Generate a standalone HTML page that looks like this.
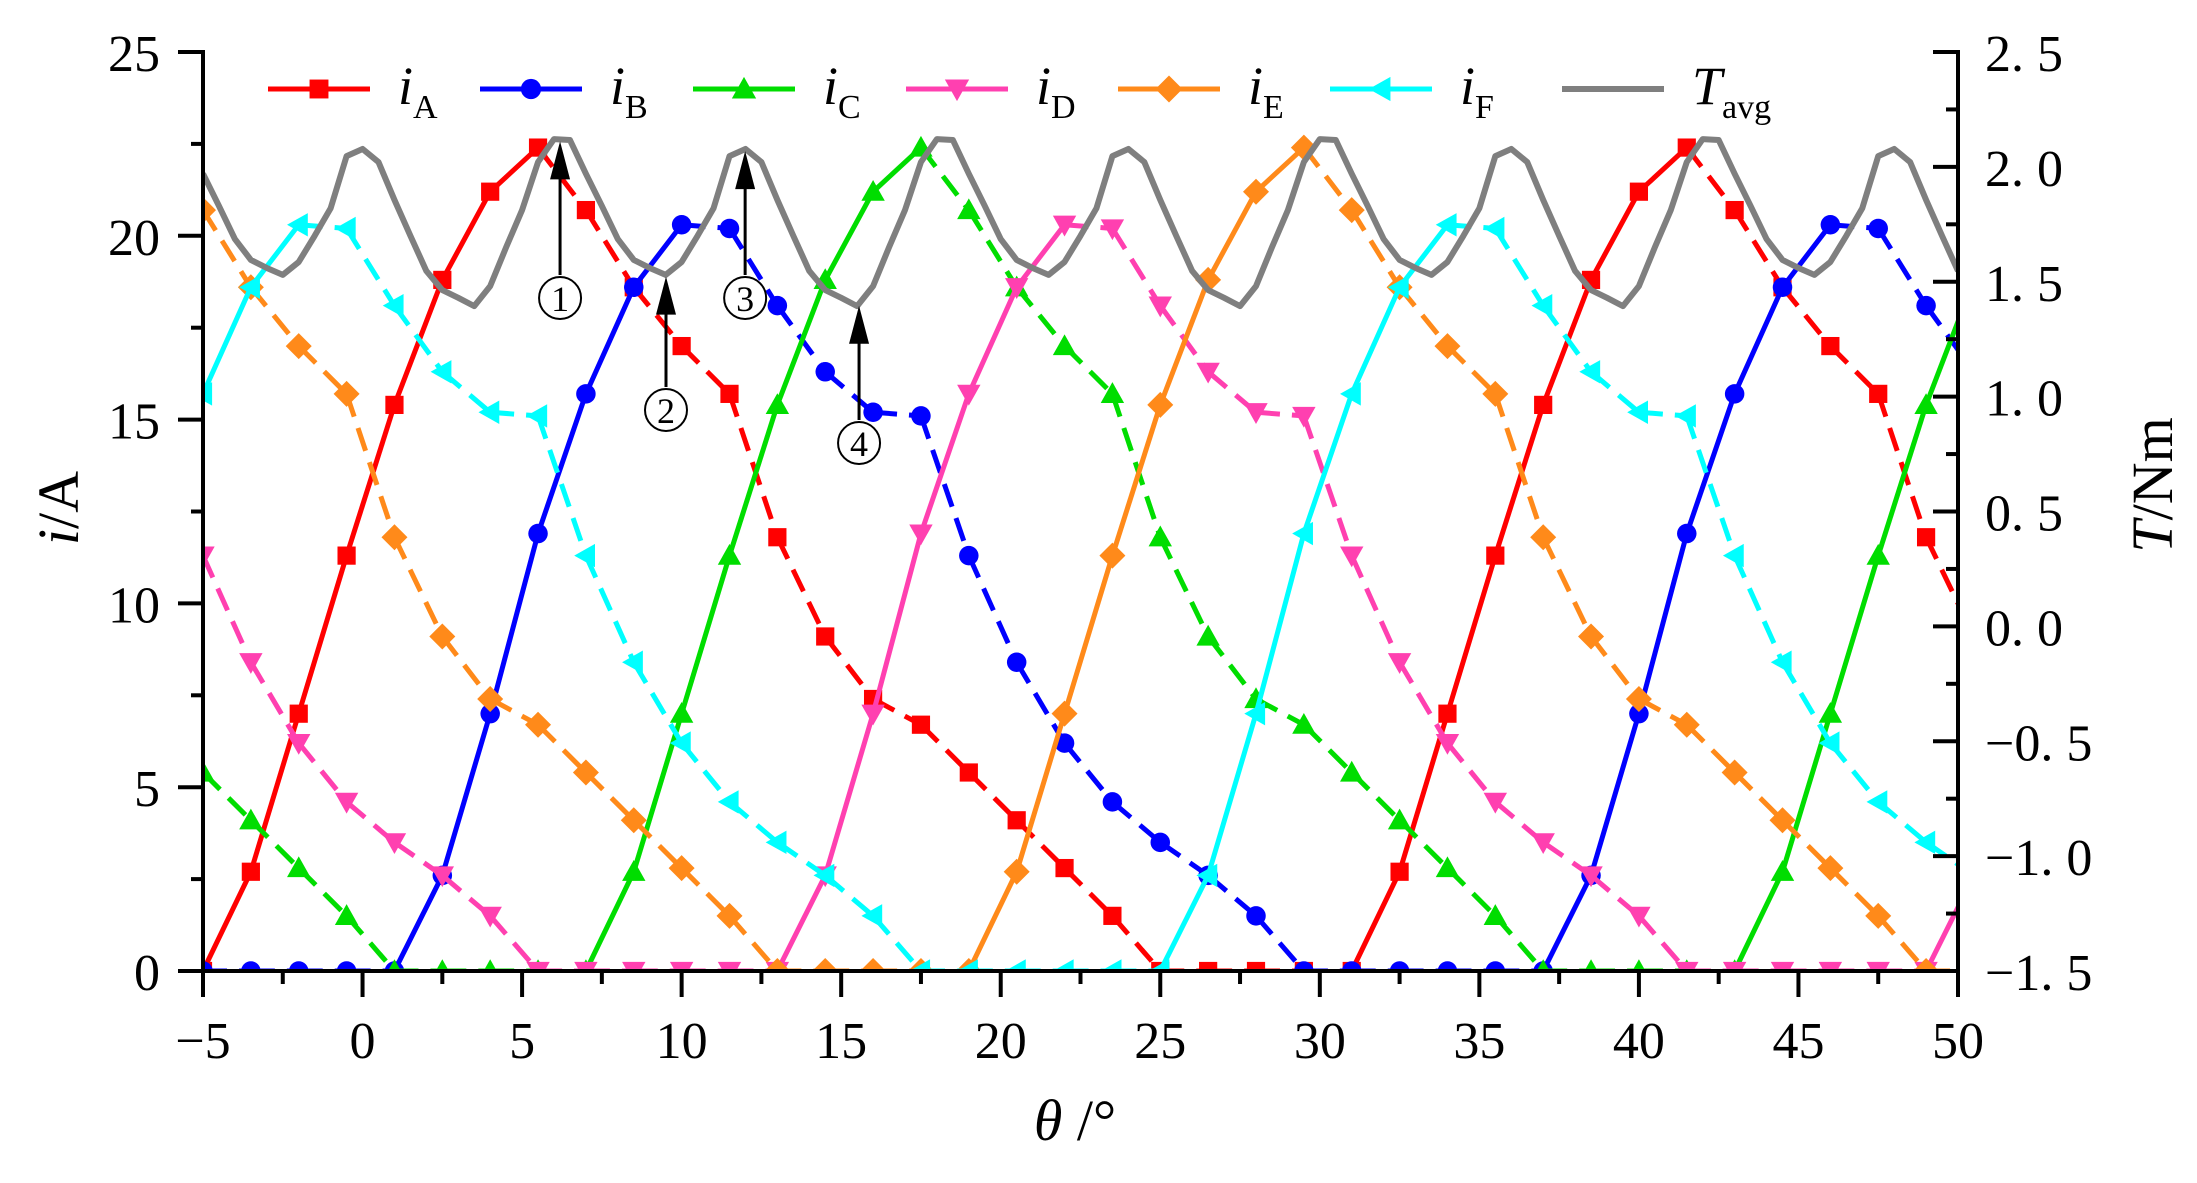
<!DOCTYPE html>
<html><head><meta charset="utf-8"><style>
html,body{margin:0;padding:0;background:#fff;}
svg{display:block;font-family:"Liberation Serif",serif;}
</style></head><body>
<svg id="chart" width="2197" height="1183" viewBox="0 0 2197 1183" xmlns="http://www.w3.org/2000/svg">
<defs><clipPath id="plotclip"><rect x="203" y="40" width="1755" height="933"/></clipPath></defs>
<g id="series" clip-path="url(#plotclip)"></g>
<g id="axes"></g>
<g id="annot"></g>
<g id="legend"></g>
<text transform="translate(78,508) rotate(-90)" text-anchor="middle" font-size="58"><tspan font-style="italic">i</tspan>/A</text>
<text transform="translate(2172,485) rotate(-90)" text-anchor="middle" font-size="58"><tspan font-style="italic">T</tspan>/Nm</text>
<text x="1075" y="1140" text-anchor="middle" font-size="58"><tspan font-style="italic">θ</tspan> /°</text>
</svg>
<script>
const theta = [-5,-3.5,-2,-0.5,1,2.5,4,5.5,7,8.5,10,11.5,13,14.5,16,17.5,19,20.5,22,23.5,25,26.5,28,29.5,31,32.5,34,35.5,37,38.5,40,41.5,43,44.5,46,47.5,49,50.5];
const iA = [0,2.7,7.0,11.3,15.4,18.8,21.2,22.4,20.7,18.6,17.0,15.7,11.8,9.1,7.4,6.7,5.4,4.1,2.8,1.5,0,0,0,0,0,2.7,7.0,11.3,15.4,18.8,21.2,22.4,20.7,18.6,17.0,15.7,11.8,9.1];
const iB = [0,0,0,0,0,2.6,7.0,11.9,15.7,18.6,20.3,20.2,18.1,16.3,15.2,15.1,11.3,8.4,6.2,4.6,3.5,2.6,1.5,0,0,0,0,0,0,2.6,7.0,11.9,15.7,18.6,20.3,20.2,18.1,16.3];
const iC = [5.4,4.1,2.8,1.5,0,0,0,0,0,2.7,7.0,11.3,15.4,18.8,21.2,22.4,20.7,18.6,17.0,15.7,11.8,9.1,7.4,6.7,5.4,4.1,2.8,1.5,0,0,0,0,0,2.7,7.0,11.3,15.4,18.8];
const iD = [11.3,8.4,6.2,4.6,3.5,2.6,1.5,0,0,0,0,0,0,2.6,7.0,11.9,15.7,18.6,20.3,20.2,18.1,16.3,15.2,15.1,11.3,8.4,6.2,4.6,3.5,2.6,1.5,0,0,0,0,0,0,2.6];
const iE = [20.7,18.6,17.0,15.7,11.8,9.1,7.4,6.7,5.4,4.1,2.8,1.5,0,0,0,0,0,2.7,7.0,11.3,15.4,18.8,21.2,22.4,20.7,18.6,17.0,15.7,11.8,9.1,7.4,6.7,5.4,4.1,2.8,1.5,0,0];
const iF = [15.7,18.6,20.3,20.2,18.1,16.3,15.2,15.1,11.3,8.4,6.2,4.6,3.5,2.6,1.5,0,0,0,0,0,0,2.6,7.0,11.9,15.7,18.6,20.3,20.2,18.1,16.3,15.2,15.1,11.3,8.4,6.2,4.6,3.5,2.6];
const thetaT0 = -5, thetaTStep = 0.5;
const Tavg = [1.97,1.83,1.686,1.595,1.56,1.53,1.586,1.70,1.82,2.047,2.078,2.021,1.856,1.70,1.547,1.464,1.43,1.394,1.481,1.65,1.812,2.021,2.121,2.117,
1.97,1.83,1.686,1.595,1.56,1.53,1.586,1.70,1.82,2.047,2.078,2.021,1.856,1.70,1.547,1.464,1.43,1.394,1.481,1.65,1.812,2.021,2.121,2.117,
1.97,1.83,1.686,1.595,1.56,1.53,1.586,1.70,1.82,2.047,2.078,2.021,1.856,1.70,1.547,1.464,1.43,1.394,1.481,1.65,1.812,2.021,2.121,2.117,
1.97,1.83,1.686,1.595,1.56,1.53,1.586,1.70,1.82,2.047,2.078,2.021,1.856,1.70,1.547,1.464,1.43,1.394,1.481,1.65,1.812,2.021,2.121,2.117,
1.97,1.83,1.686,1.595,1.56,1.53,1.586,1.70,1.82,2.047,2.078,2.021,1.856,1.70,1.547];
const xTicks = [-5,0,5,10,15,20,25,30,35,40,45,50];
const yTicks = [0,5,10,15,20,25];
const y2Ticks = [-1.5,-1.0,-0.5,0.0,0.5,1.0,1.5,2.0,2.5];
const y2Labels = ["−1. 5","−1. 0","−0. 5","0. 0","0. 5","1. 0","1. 5","2. 0","2. 5"];
const annotTheta = [6.19,9.51,11.99,15.56];
const annotLabels = ["①","②","③","④"];

const NS="http://www.w3.org/2000/svg";
const X0=203,X1=1958,YB=971,YTOP=52;
const X=t=>X0+(t+5)*(X1-X0)/55;
const Y=v=>YB-v*(YB-YTOP)/25;
const YT=v=>YB-(v+1.5)*(YB-YTOP)/4;
function mk(tag,attrs,parent){const e=document.createElementNS(NS,tag);for(const k in attrs)e.setAttribute(k,attrs[k]);parent.appendChild(e);return e;}
const gS=document.getElementById('series'),gA=document.getElementById('axes'),gN=document.getElementById('annot'),gL=document.getElementById('legend');

function marker(shape,cx,cy,col,parent,s){
  s=s||1;let e;
  if(shape==='square'){e=mk('rect',{x:cx-7*s,y:cy-7*s,width:14*s,height:14*s,fill:col},parent);}
  else if(shape==='circle'){e=mk('circle',{cx:cx,cy:cy,r:7.5*s,fill:col},parent);}
  else {let p;
    if(shape==='up')p=[[0,-9],[9,7],[-9,7]];
    else if(shape==='down')p=[[0,9],[9,-7],[-9,-7]];
    else if(shape==='diamond')p=[[0,-10],[10,0],[0,10],[-10,0]];
    else p=[[-9,0],[7,-9],[7,9]];
    e=mk('polygon',{points:p.map(q=>(cx+q[0]*s)+','+(cy+q[1]*s)).join(' '),fill:col},parent);}
  return e;
}
const series=[
 {name:'ia',data:iA,col:'#ff0000',shape:'square',sub:'A'},
 {name:'ib',data:iB,col:'#0000ff',shape:'circle',sub:'B'},
 {name:'ic',data:iC,col:'#00dd00',shape:'up',sub:'C'},
 {name:'id',data:iD,col:'#ff40b0',shape:'down',sub:'D'},
 {name:'ie',data:iE,col:'#ff8a1a',shape:'diamond',sub:'E'},
 {name:'if',data:iF,col:'#00ffff',shape:'left',sub:'F'}];
series.forEach(s=>{
  const g=mk('g',{},gS);
  
  
  for(let i=0;i<s.data.length-1;i++){
    const dashed=s.data[i+1]<=s.data[i];
    const ln=mk('line',{x1:X(theta[i]),y1:Y(s.data[i]),x2:X(theta[i+1]),y2:Y(s.data[i+1]),stroke:s.col,'stroke-width':5,'stroke-dasharray':dashed?'24 12':'none'},g);
    
    
  }
  for(let i=0;i<s.data.length;i++){
    const m=marker(s.shape,X(theta[i]),Y(s.data[i]),s.col,g,1.3);
    
    
  }
});
{
  const pts=Tavg.map((v,i)=>X(thetaT0+i*thetaTStep)+','+YT(v)).join(' ');
  const pl=mk('polyline',{points:pts,fill:'none',stroke:'#7f7f7f','stroke-width':6,'stroke-linejoin':'round'},gS);
  
  
}
const ax=(a)=>{const e=mk('line',Object.assign({stroke:'#000','stroke-width':4},a),gA);return e;};
const la=ax({x1:X0,y1:YTOP-2,x2:X0,y2:YB+2});
const ra=ax({x1:X1,y1:YTOP-2,x2:X1,y2:YB+2});
const ba=ax({x1:X0-25,y1:YB,x2:X1+2,y2:YB});
xTicks.forEach((t,i)=>{
  ax({x1:X(t),y1:YB,x2:X(t),y2:YB+26});
  if(i<xTicks.length-1)ax({x1:X(t+2.5),y1:YB,x2:X(t+2.5),y2:YB+13});
  const tx=mk('text',{x:X(t),y:1058,'text-anchor':'middle','font-size':52},gA);tx.textContent=t<0?'−'+(-t):String(t);
  
});
yTicks.forEach((v,i)=>{
  ax({x1:X0,y1:Y(v),x2:X0-25,y2:Y(v)});
  if(i<yTicks.length-1)ax({x1:X0,y1:Y(v+2.5),x2:X0-12,y2:Y(v+2.5)});
  const tx=mk('text',{x:160,y:Y(v)+19,'text-anchor':'end','font-size':52},gA);tx.textContent=String(v);
  
});
y2Ticks.forEach((v,i)=>{
  ax({x1:X1,y1:YT(v),x2:X1-25,y2:YT(v)});
  if(i<y2Ticks.length-1)ax({x1:X1,y1:YT(v+0.25),x2:X1-12,y2:YT(v+0.25)});
  const tx=mk('text',{x:1985,y:YT(v)+19,'font-size':52},gA);tx.textContent=y2Labels[i];
  
});
function tAt(t){const f=(t-thetaT0)/thetaTStep;const i=Math.floor(f);const r=f-i;return Tavg[i]*(1-r)+Tavg[Math.min(i+1,Tavg.length-1)]*r;}
const annotBottom=[275,387,275,420];
annotTheta.forEach((t,i)=>{
  const x=X(t),tip=YT(tAt(t))+2,bot=annotBottom[i];
  const g=mk('g',{},gN);
  
  
  mk('line',{x1:x,y1:bot,x2:x,y2:tip+30,stroke:'#000','stroke-width':3},g);
  mk('polygon',{points:`${x},${tip} ${x-10},${tip+38} ${x+10},${tip+38}`,fill:'#000'},g);
  mk('circle',{cx:x,cy:bot+23,r:21,fill:'#fff',stroke:'#000','stroke-width':2},g);
  const tx=mk('text',{x:x,y:bot+36,'text-anchor':'middle','font-size':36},g);tx.textContent=String(i+1);
});
const legX=[268,480,693,906,1118,1330,1562];
series.concat([{name:'tavg',col:'#7f7f7f',shape:null}]).forEach((s,i)=>{
  const g=mk('g',{},gL);
  
  
  const x=legX[i];
  mk('line',{x1:x,y1:89,x2:x+102,y2:89,stroke:s.col,'stroke-width':s.shape?5:6},g);
  if(s.shape)marker(s.shape,x+51,89,s.col,g,1.35);
  const tx=mk('text',{x:x+130,y:104,'font-size':54},g);
  if(s.shape){tx.innerHTML='<tspan font-style="italic">i</tspan><tspan font-size="34" dy="14">'+s.sub+'</tspan>';}
  else{tx.innerHTML='<tspan font-style="italic">T</tspan><tspan font-size="34" dy="14">avg</tspan>';}
});
</script>
</body></html>
